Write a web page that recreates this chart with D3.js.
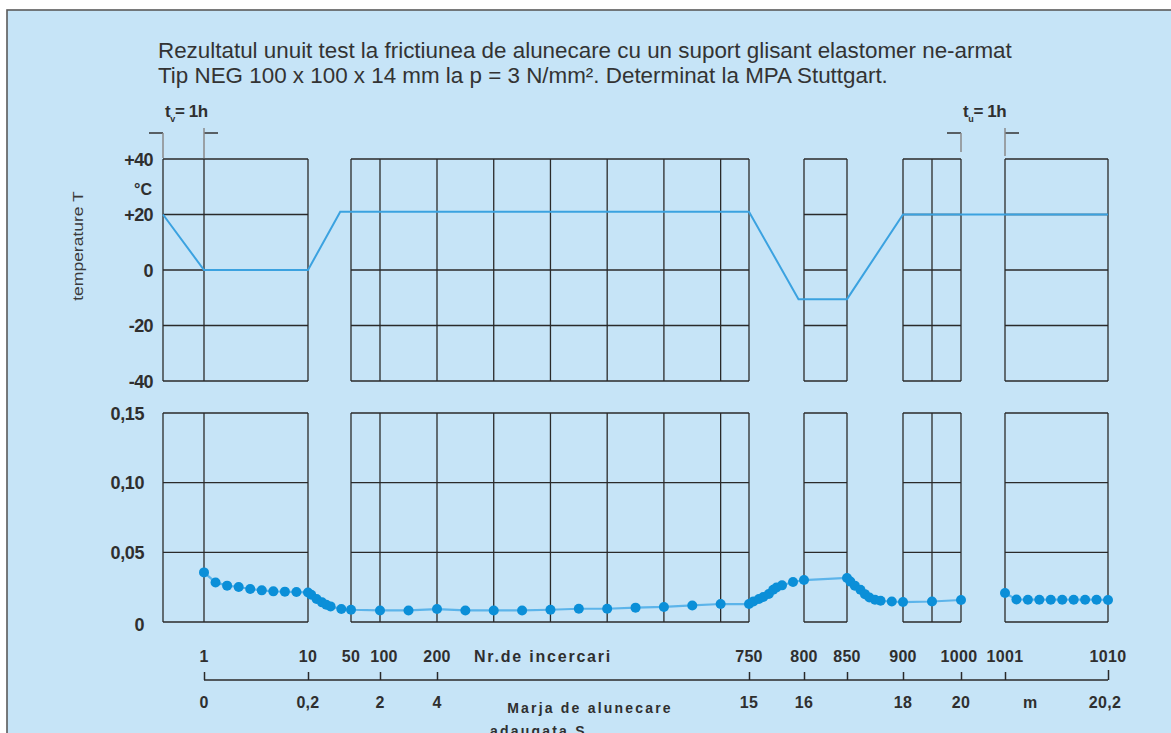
<!DOCTYPE html>
<html>
<head>
<meta charset="utf-8">
<script src="https://cdn.jsdelivr.net/npm/d3@7/dist/d3.min.js"></script>
<style>
  html, body { margin: 0; padding: 0; background: #ffffff; }
  svg { display: block; }
  text { font-family: "Liberation Sans", Arial, sans-serif; fill: #2f2f2f; }
</style>
</head>
<body>
<svg id="chart" width="1171" height="733"></svg>
<script>
// ---------------- DATA ----------------
const titleLines = [
  "Rezultatul unuit test la frictiunea de alunecare cu un suport glisant elastomer ne-armat",
  "Tip NEG 100 x 100 x 14 mm la p = 3 N/mm². Determinat la MPA Stuttgart."
];

// temperature programme (trial number -> °C); trial 0 = start of pre-conditioning t_v
const tempTrials = [0, 1, 10, 40, 750, 795, 850, 900, 1010];
const tempValues = [20, 0, 0, 21, 21, -10.5, -10.5, 20, 20];

// coefficient of friction, first run (trials 1..1000)
const fricTrialsA = [1,2,3,4,5,6,7,8,9,10,
  13,18,23,27,31,41,50,
  100,150,200,250,300,350,400,450,500,550,600,650,700,750,
  754,759,763,768,772,775,780,790,800,
  850,853,857,862,866,870,875,880,890,900,
  950,1000];
const fricValuesA = [0.0356,0.0284,0.0261,0.0251,0.0237,0.0227,0.0220,0.0218,0.0215,0.0212,
  0.0196,0.0165,0.0141,0.0124,0.0112,0.0093,0.0088,
  0.0083,0.0083,0.0093,0.0083,0.0083,0.0083,0.0088,0.0095,0.0095,0.0103,0.0108,0.0119,0.0129,0.0129,
  0.0148,0.0165,0.0180,0.0201,0.0232,0.0248,0.0263,0.0287,0.0301,
  0.0316,0.0290,0.0261,0.0231,0.0200,0.0176,0.0160,0.0152,0.0147,0.0143,
  0.0147,0.0158];
// after t_u (trials 1001..1010)
const fricTrialsB = [1001,1002,1003,1004,1005,1006,1007,1008,1009,1010];
const fricValuesB = [0.0208,0.0162,0.0160,0.0160,0.0160,0.0160,0.0160,0.0160,0.0160,0.0158];

// panel boxes (trial ranges) and interior vertical grid lines
const boxStarts = [0, 50, 800, 900, 1001];
const boxEnds   = [10, 750, 850, 1000, 1010];
const innerVerticals = [1, 100, 200, 300, 400, 500, 600, 700, 950];

const tempTicks = [40, 20, 0, -20, -40];
const tempTickLabels = ["+40", "+20", "0", "-20", "-40"];
const fricTicks = [0.15, 0.10, 0.05, 0];
const fricTickLabels = ["0,15", "0,10", "0,05", "0"];

const trialTicks = [1, 10, 50, 100, 200, 750, 800, 850, 900, 1000, 1001, 1010];
const trialTickLabels = ["1","10","50","100","200","750","800","850","900","1000","1001","1010"];

const slipTicks = [1, 10, 100, 200, 750, 800, 850, 900, 1000, 1001, 1010];
const slipTickLabels = ["0","0,2","2","4","15","16","","18","20","","20,2"];

// ---------------- SCALES ----------------
const svg = d3.select("#chart");
const x = d3.scaleLinear()
  .domain([0, 1, 10, 50, 100, 200, 750, 800, 850, 900, 1000, 1001, 1010])
  .range([163, 204, 308, 351, 380, 437, 749, 804, 847, 903, 961, 1005, 1108]);
const yT = d3.scaleLinear().domain([-40, 40]).range([381, 159]);
const yF = d3.scaleLinear().domain([0, 0.15]).range([622, 413]);

const BG = "#c6e4f7";
const GRID = "#2a2a2a";
const LINEBLUE = "#3ba2e0";
const DOTBLUE = "#0b8fd8";

// frame
svg.append("rect").attr("x", 7).attr("y", 10).attr("width", 1200).attr("height", 760)
  .attr("fill", BG).attr("stroke", "#5a5a5a").attr("stroke-width", 1.6);

// title
svg.append("g").selectAll("text").data(titleLines).join("text")
  .attr("x", 158).attr("y", (d, i) => 58 + i * 25)
  .attr("font-size", 22.4).style("fill", "#333").text(d => d);

// ---------------- GRID BOXES ----------------
function drawPanel(yScale, ticks, skipFn) {
  const g = svg.append("g");
  boxStarts.forEach((s, bi) => {
    const e = boxEnds[bi];
    const x0 = x(s), x1 = x(e);
    const yTop = yScale(ticks[0]), yBot = yScale(ticks[ticks.length - 1]);
    ticks.forEach(t => {
      if (skipFn && skipFn(bi, t)) return;
      g.append("line").attr("x1", x0).attr("x2", x1)
        .attr("y1", yScale(t)).attr("y2", yScale(t))
        .attr("stroke", GRID).attr("stroke-width", 1.3);
    });
    const vs = [s, e].concat(innerVerticals.filter(v => v > s && v < e));
    vs.forEach(v => {
      g.append("line").attr("x1", x(v)).attr("x2", x(v))
        .attr("y1", yTop).attr("y2", yBot)
        .attr("stroke", GRID).attr("stroke-width", 1.3);
    });
  });
}
drawPanel(yT, tempTicks, (bi, t) => bi === 1 && t === 20);
drawPanel(yF, fricTicks, null);

// ---------------- Y LABELS ----------------
svg.append("g").selectAll("text").data(tempTicks).join("text")
  .attr("x", 153).attr("y", d => yT(d) + 6.5)
  .attr("text-anchor", "end").attr("font-size", 18).attr("font-weight", "bold")
  .attr("letter-spacing", -0.6)
  .text((d, i) => tempTickLabels[i]);
svg.append("text").attr("x", 152).attr("y", 195).attr("text-anchor", "end")
  .attr("font-size", 16).attr("font-weight", "bold").text("°C");

svg.append("g").selectAll("text").data(fricTicks).join("text")
  .attr("x", 144).attr("y", d => yF(d) + (d === 0 ? 9 : 6.5))
  .attr("text-anchor", "end").attr("font-size", 18).attr("font-weight", "bold")
  .attr("letter-spacing", -0.4)
  .text((d, i) => fricTickLabels[i]);

svg.append("text").attr("transform", "translate(83,246) rotate(-90) scale(1.25,1)")
  .attr("text-anchor", "middle").attr("font-size", 14)
  .style("fill", "#3a3a3a").text("temperature T");

// ---------------- t_v / t_u brackets ----------------
function bracket(xLeft, xRight, sub, yBottomL, yBottomR) {
  const g = svg.append("g");
  g.append("line").attr("x1", xLeft - 14).attr("x2", xLeft).attr("y1", 133).attr("y2", 133)
    .attr("stroke", "#333").attr("stroke-width", 1.5);
  g.append("line").attr("x1", xLeft).attr("x2", xLeft).attr("y1", 133).attr("y2", yBottomL)
    .attr("stroke", "#8a8a8a").attr("stroke-width", 1.5);
  g.append("line").attr("x1", xRight).attr("x2", xRight + 14).attr("y1", 133).attr("y2", 133)
    .attr("stroke", "#333").attr("stroke-width", 1.5);
  g.append("line").attr("x1", xRight).attr("x2", xRight).attr("y1", 128).attr("y2", yBottomR)
    .attr("stroke", "#8a8a8a").attr("stroke-width", 1.5);
  const t = g.append("text").attr("x", xLeft + 2).attr("y", 117)
    .attr("font-size", 17).attr("font-weight", "bold").attr("letter-spacing", -0.4);
  t.append("tspan").text("t");
  t.append("tspan").attr("font-size", 9).attr("dy", 5).text(sub);
  t.append("tspan").attr("dy", -5).text("= 1h");
}
bracket(x(0), x(1), "v", 158, 158);
bracket(x(1000), x(1001), "u", 152, 156);

// ---------------- TEMPERATURE LINE ----------------
const tempData = tempTrials.map((t, i) => [t, tempValues[i]]);
svg.append("path").datum(tempData)
  .attr("d", d3.line().x(d => x(d[0])).y(d => yT(d[1])))
  .attr("fill", "none").attr("stroke", LINEBLUE).attr("stroke-width", 2);

// ---------------- FRICTION ----------------
const segA = fricTrialsA.map((t, i) => [t, fricValuesA[i]]);
const segB = fricTrialsB.map((t, i) => [t, fricValuesB[i]]);
const fLine = d3.line().x(d => x(d[0])).y(d => yF(d[1]));
[segA, segB].forEach(seg => {
  svg.append("path").datum(seg).attr("d", fLine)
    .attr("fill", "none").attr("stroke", "#5cb4ea").attr("stroke-width", 2.2);
});
svg.append("g").selectAll("circle").data(segA.concat(segB)).join("circle")
  .attr("cx", d => x(d[0])).attr("cy", d => yF(d[1])).attr("r", 5)
  .attr("fill", DOTBLUE);

// ---------------- BOTTOM AXES ----------------
svg.append("g").selectAll("text").data(trialTicks).join("text")
  .attr("x", d => x(d) + (d === 100 ? 4 : d === 1000 ? -2 : 0))
  .attr("y", 662).attr("text-anchor", "middle")
  .attr("font-size", 16).attr("font-weight", "bold").attr("letter-spacing", 0.3)
  .text((d, i) => trialTickLabels[i]);
svg.append("text").attr("x", 543).attr("y", 662).attr("text-anchor", "middle")
  .attr("font-size", 16).attr("font-weight", "bold").attr("letter-spacing", 1.8)
  .text("Nr.de incercari");

const axisG = svg.append("g").attr("transform", "translate(0,680)");
axisG.call(d3.axisTop(x).tickValues(slipTicks).tickFormat("").tickSize(8).tickSizeOuter(0));
axisG.select(".domain").remove();
axisG.selectAll(".tick line").attr("stroke", GRID).attr("stroke-width", 1.5)
  .attr("y2", d => d === 1010 ? -10 : -8);
axisG.append("line").attr("x1", x(1)).attr("x2", x(1010)).attr("y1", 0).attr("y2", 0)
  .attr("stroke", GRID).attr("stroke-width", 1.5);

svg.append("g").selectAll("text").data(slipTicks).join("text")
  .attr("x", d => x(d) + (d === 1010 ? -3 : 0)).attr("y", 708).attr("text-anchor", "middle")
  .attr("font-size", 16).attr("font-weight", "bold").attr("letter-spacing", 0.3)
  .text((d, i) => slipTickLabels[i]);
svg.append("text").attr("x", x(1003.2)).attr("y", 708).attr("text-anchor", "middle")
  .attr("font-size", 16).attr("font-weight", "bold").text("m");

svg.append("text").attr("x", 590).attr("y", 713).attr("text-anchor", "middle")
  .attr("font-size", 14).attr("font-weight", "bold").attr("letter-spacing", 2.2)
  .text("Marja de alunecare");
const sub = svg.append("text").attr("x", 490).attr("y", 736)
  .attr("font-size", 14).attr("font-weight", "bold").attr("letter-spacing", 2.2);
sub.append("tspan").text("adaugata S");
sub.append("tspan").attr("font-size", 8).attr("dy", 2).attr("letter-spacing", 0.5).text(" sm");
</script>
</body>
</html>
